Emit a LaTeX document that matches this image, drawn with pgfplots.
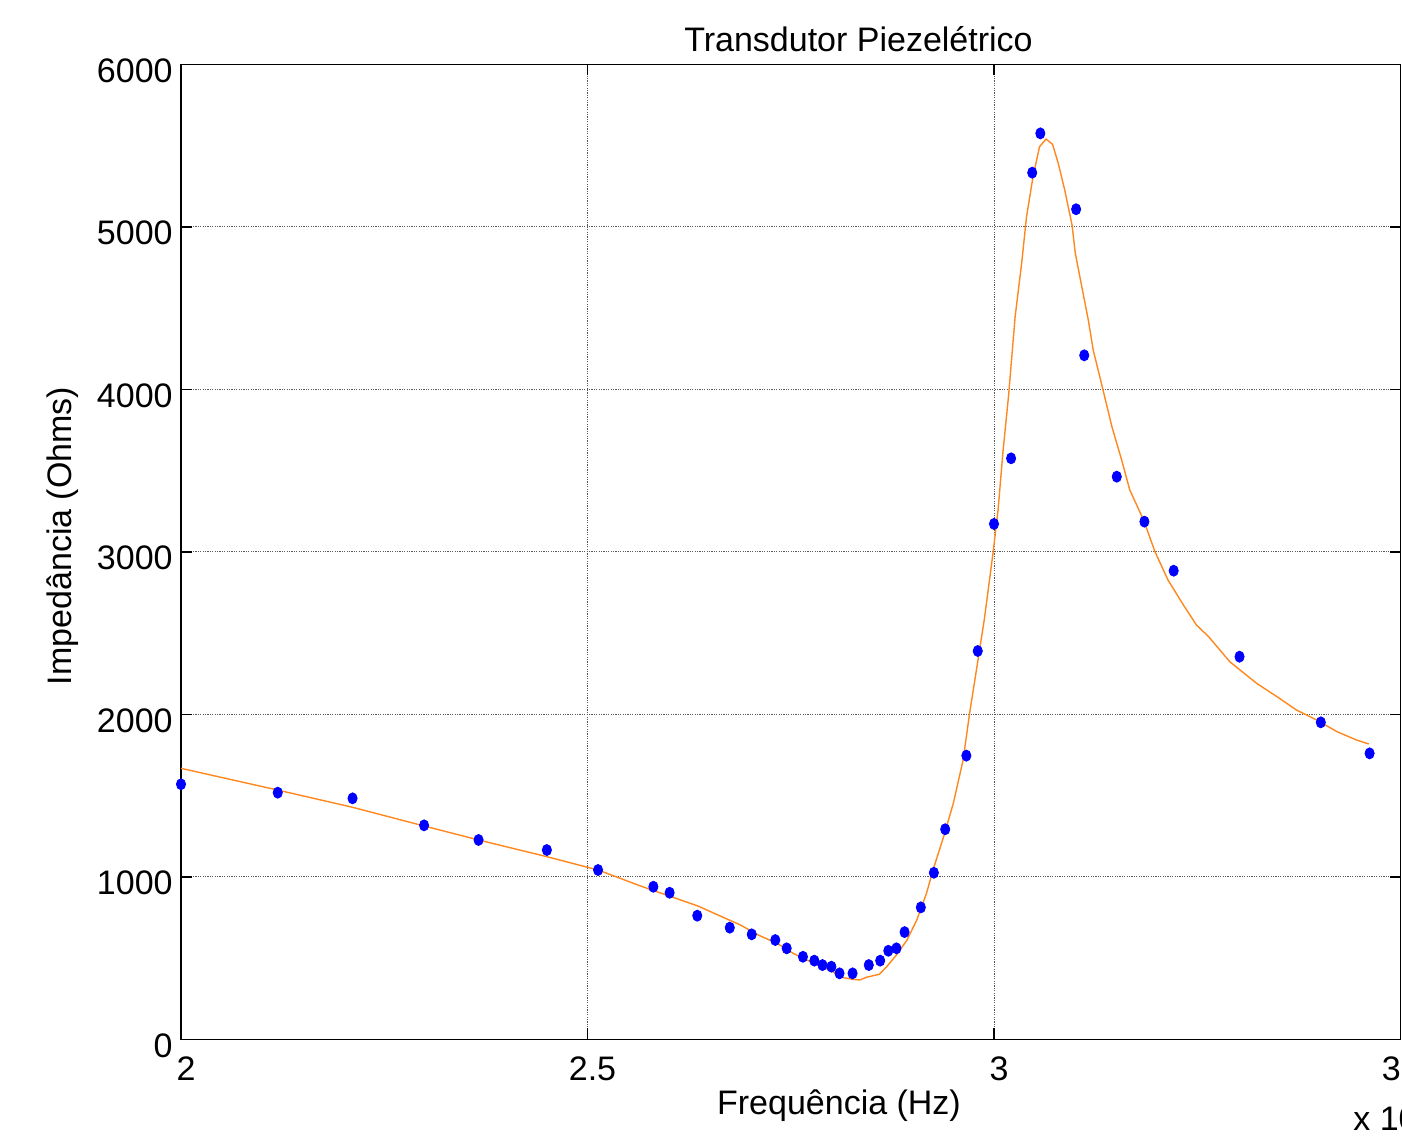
\documentclass[border=0pt]{standalone}
\usepackage{pgfplots}
\pgfplotsset{compat=1.18}
\usepackage{fontspec}
\setmainfont{Liberation Sans}
\definecolor{fitorange}{RGB}{255,136,30}
\definecolor{dotblue}{RGB}{0,0,255}
\newcommand{\fs}{\fontsize{17}{20}\selectfont}
\begin{document}
\begin{tikzpicture}
\path[use as bounding box] (-90.5pt,-47.85pt) rectangle (610.5pt,519.65pt);
\clip (-90.5pt,-47.85pt) rectangle (610.5pt,519.65pt);
\begin{axis}[
  scale only axis,
  width=609.75pt, height=487.4pt,
  xmin=2, xmax=3.5, ymin=0, ymax=6000,
  xtick={2,2.5,3,3.5}, xticklabels={2,2.5,3,3.5},
  ytick={0,1000,2000,3000,4000,5000,6000},
  yticklabels={0,1000,2000,3000,4000,5000,6000},
  scaled ticks=false,
  xtick pos=both, ytick pos=both,
  xticklabel pos=bottom, yticklabel pos=left,
  tick align=inside,
  major tick length=5.5pt,
  every tick/.style={black, line width=0.8pt},
  axis line style={black, line width=0.8pt},
  grid=major,
  major grid style={black!65, line width=0.5pt, dash pattern=on 0.6pt off 0.6pt},
  xticklabel style={font=\fs, anchor=north, inner sep=0pt, yshift=-8.5pt, xshift=2.5pt},
  yticklabel style={font=\fs, anchor=east, inner sep=0pt, xshift=-4pt, yshift=-3pt},
  clip=true,
]
\addplot[color=fitorange, line width=0.7pt, no marks] coordinates {
(2.000,1668) (2.119,1534) (2.211,1428) (2.299,1313) (2.366,1227) (2.450,1124)
(2.513,1042) (2.565,944) (2.636,820) (2.665,755) (2.688,704) (2.710,642)
(2.733,591) (2.753,529) (2.778,468) (2.798,427) (2.815,379) (2.827,369)
(2.835,365) (2.843,382) (2.859,400) (2.868,447) (2.880,519) (2.893,611)
(2.905,734) (2.917,899) (2.925,1042) (2.938,1247) (2.950,1453) (2.962,1719)
(2.970,2007) (2.979,2293) (2.988,2581) (2.999,3001) (3.005,3258) (3.011,3615)
(3.018,3966) (3.026,4448) (3.034,4776) (3.040,5063) (3.048,5309) (3.056,5494)
(3.064,5541) (3.072,5509) (3.079,5392) (3.087,5227) (3.096,5012) (3.100,4838)
(3.108,4632) (3.116,4427) (3.122,4243) (3.132,4040) (3.145,3771) (3.157,3566)
(3.167,3381) (3.184,3196) (3.198,3001) (3.214,2827) (3.233,2673) (3.249,2550)
(3.264,2478) (3.290,2324) (3.323,2191) (3.348,2109) (3.372,2027) (3.397,1965)
(3.422,1893) (3.446,1842) (3.461,1818)
};
\addplot[only marks, mark=*, mark size=2.3pt, color=dotblue,
  every mark/.append style={yscale=1.2}] coordinates {
(2.000,1570) (2.119,1518) (2.211,1483) (2.299,1317) (2.366,1227) (2.450,1165)
(2.513,1042) (2.581,939) (2.601,902) (2.635,761) (2.675,687) (2.702,646)
(2.731,611) (2.745,560) (2.765,508) (2.779,484) (2.789,457) (2.800,447)
(2.810,406) (2.826,406) (2.846,457) (2.860,484) (2.870,545) (2.880,560)
(2.890,660) (2.910,812) (2.926,1025) (2.940,1293) (2.966,1746) (2.980,2390)
(3.000,3172) (3.021,3576) (3.047,5334) (3.057,5576) (3.101,5109) (3.111,4210)
(3.151,3463) (3.185,3186) (3.221,2884) (3.302,2355) (3.402,1951) (3.462,1760)
};
\end{axis}
\node[font=\fs, anchor=base, inner sep=0pt] at ({(858.5-181)*0.5pt},{(1039.3-52)*0.5pt}) {Transdutor Piezelétrico};
\node[font=\fs, anchor=base, inner sep=0pt] at ({(839-181)*0.5pt},{(1039.3-1114)*0.5pt}) {Frequência (Hz)};
\node[font=\fs, anchor=base, inner sep=0pt, rotate=90] at ({(72-181)*0.5pt},{(1039.3-536)*0.5pt}) {Impedância (Ohms)};
\node[font=\fs, anchor=base west, inner sep=0pt] at ({(1353-181)*0.5pt},{(1039.3-1130)*0.5pt}) {x 10\textsuperscript{4}};
\end{tikzpicture}
\end{document}
